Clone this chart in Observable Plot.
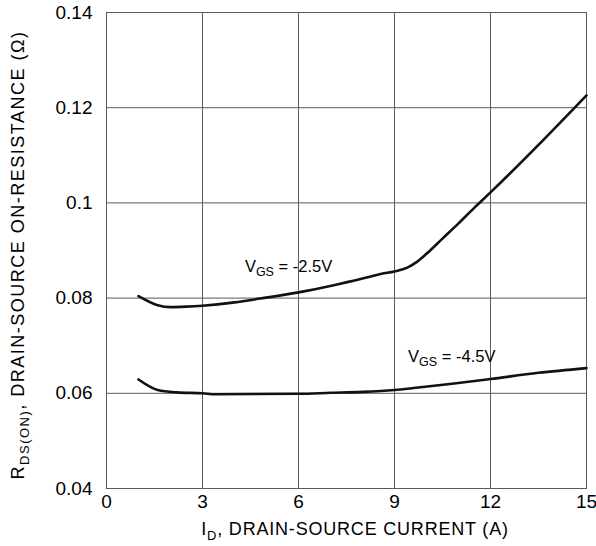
<!DOCTYPE html>
<html>
<head>
<meta charset="utf-8">
<script src="https://cdn.jsdelivr.net/npm/d3@7"></script>
<script src="https://cdn.jsdelivr.net/npm/@observablehq/plot@0.6"></script>
<style>
  html, body { margin: 0; padding: 0; background: #fff; }
  #chart svg { display: block; }
</style>
</head>
<body>
<div id="chart"></div>
<script>
// Data
const xTicks = [0, 3, 6, 9, 12, 15];
const yTicks = [0.04, 0.06, 0.08, 0.1, 0.12, 0.14];
const yTickLabels = ["0.04", "0.06", "0.08", "0.1", "0.12", "0.14"];

const idVgs25 = [1, 1.6, 2, 2.5, 3, 4, 4.8, 6, 7.1, 8, 8.6, 9, 9.4, 9.7, 10, 10.5, 11, 11.5, 12, 13.5, 15];
const rdsVgs25 = [0.0804, 0.0785, 0.0781, 0.0782, 0.0784, 0.0791, 0.0799, 0.0812, 0.0827, 0.0841, 0.0851, 0.0856, 0.0864, 0.0876, 0.0893, 0.0925, 0.0957, 0.0990, 0.1022, 0.1122, 0.1226];

const idVgs45 = [1, 1.6, 2.2, 3, 3.4, 6, 7, 8, 9, 9.6, 10.8, 12, 13.5, 15];
const rdsVgs45 = [0.0629, 0.0607, 0.0602, 0.0600, 0.0598, 0.0599, 0.0601, 0.0603, 0.0607, 0.0611, 0.0620, 0.0630, 0.0643, 0.0653];

const labelNames = ["GS", "GS"];
const labelValues = ["= -2.5V", "= -4.5V"];
const labelId = [4.34, 9.44];
const labelRds = [0.0854, 0.0665];

const series25 = idVgs25.map((x, i) => ({ x, y: rdsVgs25[i] }));
const series45 = idVgs45.map((x, i) => ({ x, y: rdsVgs45[i] }));

const FONT = "Liberation Sans, Arial, Helvetica, sans-serif";

const plot = Plot.plot({
  width: 596,
  height: 546,
  marginLeft: 106,
  marginRight: 10,
  marginTop: 12,
  marginBottom: 58,
  style: { fontFamily: FONT, fontSize: "19px", color: "#000", background: "#fff" },
  x: { domain: [0, 15], ticks: xTicks, label: null },
  y: { domain: [0.04, 0.14], ticks: yTicks, label: null },
  marks: [
    Plot.gridX(xTicks, { stroke: "#5a5a5a", strokeOpacity: 1, strokeWidth: 1 }),
    Plot.gridY(yTicks, { stroke: "#5a5a5a", strokeOpacity: 1, strokeWidth: 1 }),
    Plot.frame({ stroke: "#5a5a5a", strokeWidth: 1 }),
    Plot.axisX(xTicks, { tickSize: 0, tickPadding: 6, fontSize: 19, tickFormat: d => String(d) }),
    Plot.axisY(yTicks, { tickSize: 0, tickPadding: 14, fontSize: 19, tickFormat: (d, i) => yTickLabels[i] }),
    Plot.line(series25, { x: "x", y: "y", curve: "monotone-x", stroke: "#111", strokeWidth: 2.6 }),
    Plot.line(series45, { x: "x", y: "y", curve: "monotone-x", stroke: "#111", strokeWidth: 2.6 })
  ]
});

document.getElementById("chart").appendChild(plot);

const svg = d3.select(plot);
const sx = plot.scale("x");
const sy = plot.scale("y");

// Curve annotations with subscripts
labelId.forEach((xv, i) => {
  const t = svg.append("text")
    .attr("x", sx.apply(xv))
    .attr("y", sy.apply(labelRds[i]))
    .attr("text-anchor", "start")
    .attr("font-family", FONT)
    .attr("font-size", 16.5)
    .attr("fill", "#000");
  t.append("tspan").text("V");
  t.append("tspan").attr("font-size", 12.5).attr("dy", 4).text(labelNames[i]);
  t.append("tspan").attr("dy", -4).text(" " + labelValues[i]);
});

// X axis title
const xt = svg.append("text")
  .attr("x", 355)
  .attr("y", 535)
  .attr("text-anchor", "middle")
  .attr("font-family", FONT)
  .attr("font-size", 18)
  .attr("letter-spacing", "0.8px")
  .attr("fill", "#000");
xt.append("tspan").text("I");
xt.append("tspan").attr("font-size", 13).attr("dy", 5).text("D");
xt.append("tspan").attr("dy", -5).text(", DRAIN-SOURCE CURRENT (A)");

// Y axis title
const yt = svg.append("text")
  .attr("transform", "translate(24,255) rotate(-90)")
  .attr("text-anchor", "middle")
  .attr("font-family", FONT)
  .attr("font-size", 18)
  .attr("letter-spacing", "1.5px")
  .attr("fill", "#000");
yt.append("tspan").text("R");
yt.append("tspan").attr("font-size", 13).attr("dy", 5).text("DS(ON)");
yt.append("tspan").attr("dy", -5).text(", DRAIN-SOURCE ON-RESISTANCE (Ω)");
</script>
</body>
</html>
